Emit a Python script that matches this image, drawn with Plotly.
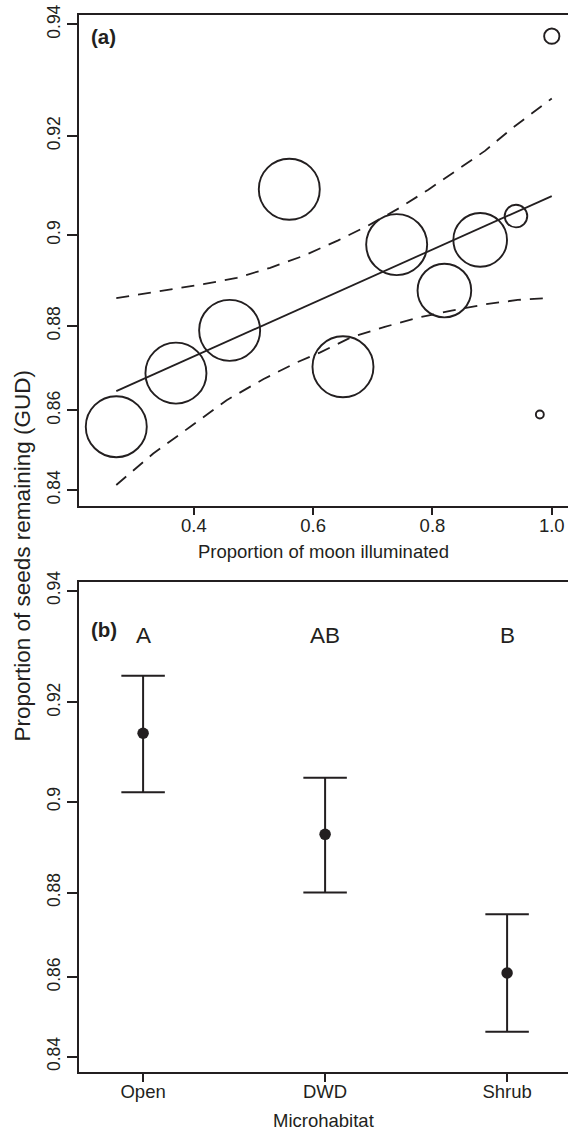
import numpy as np
import plotly.graph_objects as go

# ---------------- data: panel (a) ----------------
moon = [0.27, 0.37, 0.46, 0.56, 0.65, 0.74, 0.82, 0.88, 0.94, 0.98, 1.00]
gud = [0.856, 0.869, 0.879, 0.9095, 0.8705, 0.898, 0.888, 0.899, 0.904, 0.859, 0.938]
weight = [1.0, 1.0, 1.0, 1.0, 1.0, 1.0, 0.88, 0.88, 0.37, 0.13, 0.25]  # relative sample size

fit_moon = [0.27, 1.0]
fit_gud = [0.8647, 0.9081]

upper_moon = [0.27, 0.343, 0.416, 0.472, 0.528, 0.584, 0.642, 0.692, 0.745, 0.793,
              0.843, 0.888, 0.932, 0.971, 1.0]
upper_gud = [0.8863, 0.8879, 0.8894, 0.8908, 0.8930, 0.8956, 0.8989, 0.9020, 0.9057,
             0.9094, 0.9134, 0.9171, 0.9213, 0.9246, 0.9270]
lower_moon = [0.27, 0.332, 0.394, 0.455, 0.517, 0.572, 0.612, 0.664, 0.720, 0.776,
              0.832, 0.888, 0.943, 1.0]
lower_gud = [0.8413, 0.8493, 0.8560, 0.8625, 0.8676, 0.8715, 0.8739, 0.8774, 0.8798,
             0.8819, 0.8835, 0.8849, 0.8859, 0.8864]

# ---------------- data: panel (b) ----------------
habitat = ["Open", "DWD", "Shrub"]
hab_pos = [1, 2, 3]
hab_mean = [0.914, 0.893, 0.861]
hab_upper = [0.925, 0.905, 0.875]
hab_lower = [0.902, 0.880, 0.8464]
hab_letters = ["A", "AB", "B"]

# ---------------- tick labels ----------------
y_tick_vals = [0.84, 0.86, 0.88, 0.90, 0.92, 0.94]
y_tick_text = ["0.84", "0.86", "0.88", "0.9", "0.92", "0.94"]
x_tick_vals_a = [0.4, 0.6, 0.8, 1.0]
x_tick_text_a = ["0.4", "0.6", "0.8", "1.0"]


def asin_sqrt(p):
    """Arcsine square-root scale used for the proportion axis."""
    return np.arcsin(np.sqrt(np.asarray(p, dtype=float)))


INK = "#231f20"
FONT = "Liberation Sans, Arial, Helvetica, sans-serif"
W, H = 568, 1131
ML = 79

t94, t84 = float(asin_sqrt(0.94)), float(asin_sqrt(0.84))
span = t94 - t84
ya_range = [t84 - span * 15.7 / 465.7, t94 + span * 9.3 / 465.7]
yb_range = [t84 - span * 15.6 / 466.0, t94 + span * 8.4 / 466.0]

fig = go.Figure()

# panel (a)
fig.add_trace(go.Scatter(
    x=upper_moon, y=asin_sqrt(upper_gud), mode="lines",
    line=dict(color=INK, width=1.8, dash="13px,9px"),
    xaxis="x", yaxis="y", showlegend=False, hoverinfo="skip"))
fig.add_trace(go.Scatter(
    x=lower_moon, y=asin_sqrt(lower_gud), mode="lines",
    line=dict(color=INK, width=1.8, dash="13px,9px"),
    xaxis="x", yaxis="y", showlegend=False, hoverinfo="skip"))
fig.add_trace(go.Scatter(
    x=fit_moon, y=asin_sqrt(fit_gud), mode="lines",
    line=dict(color=INK, width=1.8),
    xaxis="x", yaxis="y", showlegend=False, hoverinfo="skip"))
fig.add_trace(go.Scatter(
    x=moon, y=asin_sqrt(gud), mode="markers",
    marker=dict(size=[w * 61 for w in weight], symbol="circle", opacity=1,
                color="rgba(0,0,0,0)", line=dict(color=INK, width=1.9)),
    xaxis="x", yaxis="y", showlegend=False,
    text=[f"GUD {g:.3f}" for g in gud]))

# panel (b)
m_t = asin_sqrt(hab_mean)
fig.add_trace(go.Scatter(
    x=hab_pos, y=m_t, mode="markers",
    marker=dict(size=11.5, color=INK, symbol="circle", opacity=1),
    error_y=dict(type="data", symmetric=False,
                 array=asin_sqrt(hab_upper) - m_t,
                 arrayminus=m_t - asin_sqrt(hab_lower),
                 color=INK, thickness=2, width=21.75),
    xaxis="x2", yaxis="y2", showlegend=False))

axis_common = dict(showline=True, linewidth=2, linecolor=INK, ticks="outside",
                   tickcolor=INK, tickwidth=2, showgrid=False, zeroline=False,
                   automargin=False)

fig.update_layout(
    width=W, height=H,
    margin=dict(l=ML, r=0, t=0, b=0),
    paper_bgcolor="white", plot_bgcolor="white",
    font=dict(family=FONT, color=INK),
    xaxis=dict(domain=[0, 1], anchor="y", range=[0.2075, 1.0272],
               tickvals=x_tick_vals_a, ticktext=x_tick_text_a, ticklen=7.5,
               ticklabelstandoff=-5,
               mirror=True, tickfont=dict(size=18.5, color=INK), **axis_common),
    yaxis=dict(domain=[1 - 505.7 / H, 1 - 15 / H], anchor="x", range=ya_range,
               tickvals=list(asin_sqrt(y_tick_vals)), ticktext=y_tick_text,
               tickangle=-90, ticklen=10.5,
               tickfont=dict(size=17.5, color=INK), **axis_common),
    xaxis2=dict(domain=[0, 1], anchor="y2", range=[0.6478, 3.3346],
                tickvals=hab_pos, ticktext=habitat, ticklen=7.5,
                ticklabelstandoff=-6,
                mirror=True, tickfont=dict(size=18.5, color=INK), **axis_common),
    yaxis2=dict(domain=[1 - 1072.3 / H, 1 - 582.3 / H], anchor="x2", range=yb_range,
                tickvals=list(asin_sqrt(y_tick_vals)), ticktext=y_tick_text,
                tickangle=-90, ticklen=10.5,
                tickfont=dict(size=17.5, color=INK), **axis_common),
)

pw = W - ML
ann = []
ann.append(dict(text="<b>(a)</b>", xref="paper", yref="paper",
                x=(88.8 - ML) / pw, y=1 - 36.7 / H, xanchor="left", yanchor="middle",
                showarrow=False, font=dict(size=20.5, color=INK, family=FONT)))
ann.append(dict(text="<b>(b)</b>", xref="paper", yref="paper",
                x=(88.8 - ML) / pw, y=1 - 629.3 / H, xanchor="left", yanchor="middle",
                showarrow=False, font=dict(size=20.5, color=INK, family=FONT)))
ann.append(dict(text="Proportion of moon illuminated", xref="paper", yref="paper",
                x=0.5, y=1 - 551 / H, xanchor="center", yanchor="middle",
                showarrow=False, font=dict(size=18.5, color=INK, family=FONT)))
ann.append(dict(text="Microhabitat", xref="paper", yref="paper",
                x=0.5, y=1 - 1120 / H, xanchor="center", yanchor="middle",
                showarrow=False, font=dict(size=18.5, color=INK, family=FONT)))
ann.append(dict(text="Proportion of seeds remaining (GUD)", xref="paper", yref="paper",
                x=(21.5 - ML) / pw, y=1 - 556 / H, xanchor="center", yanchor="middle",
                textangle=-90, showarrow=False,
                font=dict(size=22.5, color=INK, family=FONT)))
for xp, lab in zip(hab_pos, hab_letters):
    ann.append(dict(text=lab, xref="x2", yref="y2", x=xp, y=float(asin_sqrt(0.9323)),
                    xanchor="center", yanchor="middle", showarrow=False,
                    font=dict(size=22.5, color=INK, family=FONT)))
fig.update_layout(annotations=ann)

fig.write_html(
    "out.html",
    config={"displayModeBar": False},
    post_script="document.body.style.margin='0';document.body.style.overflow='hidden';",
)
